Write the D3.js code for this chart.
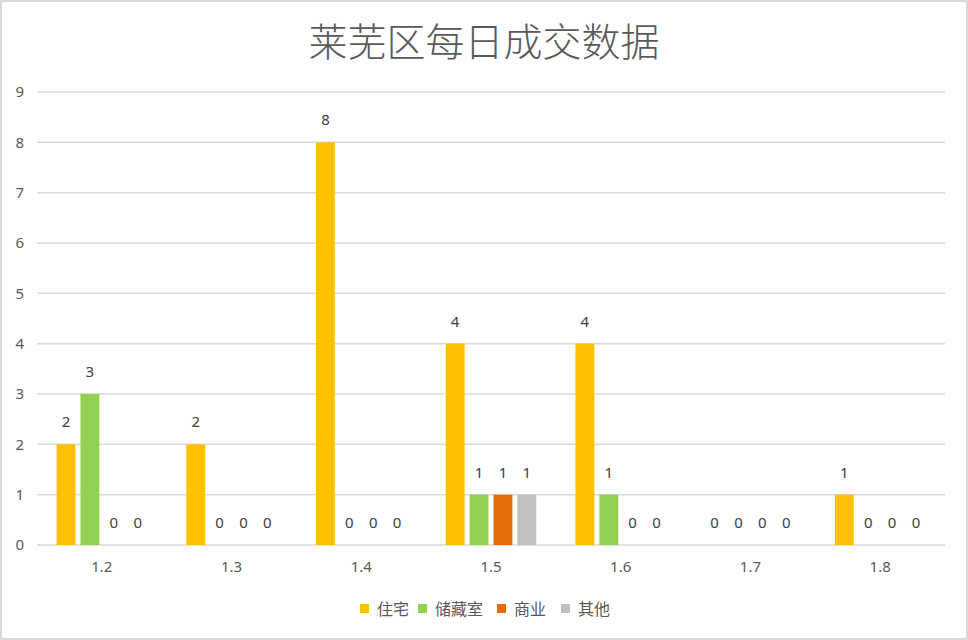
<!DOCTYPE html>
<html>
<head>
<meta charset="utf-8">
<script src="https://cdn.jsdelivr.net/npm/d3@7"></script>
<style>
  body { margin: 0; background: #fff; }
  svg { display: block; font-family: "Noto Sans CJK SC", "Noto Sans", sans-serif; }
</style>
</head>
<body>
<div id="chart"></div>
<script>
// chart data
const categories = ['1.2', '1.3', '1.4', '1.5', '1.6', '1.7', '1.8'];
const seriesNames = ['住宅', '储藏室', '商业', '其他'];
const seriesColors = ['#FFC000', '#92D050', '#E36C09', '#BFBFBF'];
const housing = [2, 2, 8, 4, 4, 0, 1];
const storage = [3, 0, 0, 1, 1, 0, 0];
const commercial = [0, 0, 0, 1, 0, 0, 0];
const other = [0, 0, 0, 1, 0, 0, 0];
const yTicks = [0, 1, 2, 3, 4, 5, 6, 7, 8, 9];
const titleText = '莱芜区每日成交数据';

const seriesValues = [housing, storage, commercial, other];

const width = 968;
const height = 640;
const margin = { top: 92, right: 23, bottom: 95, left: 37 };

const svg = d3.select('#chart')
  .append('svg')
  .attr('width', width)
  .attr('height', height);

// outer border
svg.append('rect')
  .attr('x', 1)
  .attr('y', 1)
  .attr('width', width - 2)
  .attr('height', height - 2)
  .attr('fill', '#fff')
  .attr('stroke', '#D9D9D9')
  .attr('stroke-width', 2);

// Title
svg.append('text')
  .attr('x', width / 2)
  .attr('y', 56)
  .attr('text-anchor', 'middle')
  .style('font-size', '39px')
  .style('font-weight', 300)
  .style('fill', '#595959')
  .text(titleText);

// Scales
const x0 = d3.scaleBand()
  .domain(categories)
  .range([margin.left, width - margin.right])
  .paddingInner(0)
  .paddingOuter(0);

const x1 = d3.scaleBand()
  .domain(seriesNames)
  .range([0, x0.bandwidth()])
  .paddingInner(0.21)
  .paddingOuter(0.82);

const y = d3.scaleLinear()
  .domain([0, 9])
  .range([height - margin.bottom, margin.top]);

// Gridlines
svg.append('g')
  .selectAll('line')
  .data(yTicks)
  .enter()
  .append('line')
  .attr('x1', margin.left)
  .attr('x2', width - margin.right)
  .attr('y1', d => y(d))
  .attr('y2', d => y(d))
  .attr('stroke', '#D9D9D9')
  .attr('stroke-width', 1.5);

// Y axis labels
const yAxis = d3.axisLeft(y)
  .tickValues(yTicks)
  .tickSize(0)
  .tickPadding(0);

svg.append('g')
  .attr('transform', `translate(${margin.left - 13}, 0)`)
  .call(yAxis)
  .call(g => g.select('.domain').remove())
  .selectAll('text')
  .style('font-size', '15px')
  .style('font-family', '"Noto Sans", sans-serif')
  .style('fill', '#595959');

// X axis labels
const xAxis = d3.axisBottom(x0)
  .tickSize(0)
  .tickPadding(16);

svg.append('g')
  .attr('transform', `translate(0, ${height - margin.bottom})`)
  .call(xAxis)
  .call(g => g.select('.domain').remove())
  .selectAll('text')
  .style('font-size', '15px')
  .style('font-family', '"Noto Sans", sans-serif')
  .style('fill', '#595959');

// Bars
const groups = svg.append('g')
  .selectAll('.group')
  .data(categories)
  .enter()
  .append('g')
  .attr('class', 'group')
  .attr('transform', d => `translate(${x0(d)}, 0)`);

const cells = groups.selectAll('.cell')
  .data((d, i) => seriesNames.map((s, j) => ({ series: s, value: seriesValues[j][i], color: seriesColors[j] })))
  .enter()
  .append('g')
  .attr('class', 'cell');

cells.append('rect')
  .attr('x', d => x1(d.series))
  .attr('y', d => y(d.value))
  .attr('width', x1.bandwidth())
  .attr('height', d => y(0) - y(d.value))
  .attr('fill', d => d.color);

cells.append('text')
  .attr('x', d => x1(d.series) + x1.bandwidth() / 2)
  .attr('y', d => y(d.value) - 17)
  .attr('text-anchor', 'middle')
  .style('font-size', '15px')
  .style('font-family', '"Noto Sans", sans-serif')
  .style('fill', '#404040')
  .text(d => d.value);

// Legend
const legendX = [360, 418, 497, 561];
const legend = svg.append('g')
  .attr('transform', `translate(0, 609)`);

const legendItems = legend.selectAll('.legend-item')
  .data(seriesNames)
  .enter()
  .append('g')
  .attr('class', 'legend-item')
  .attr('transform', (d, i) => `translate(${legendX[i]}, 0)`);

legendItems.append('rect')
  .attr('x', 0)
  .attr('y', -5)
  .attr('width', 9)
  .attr('height', 9)
  .attr('fill', (d, i) => seriesColors[i]);

legendItems.append('text')
  .attr('x', 17)
  .attr('y', 0)
  .attr('dy', '0.35em')
  .style('font-size', '16px')
  .style('fill', '#595959')
  .text(d => d);
</script>
</body>
</html>
